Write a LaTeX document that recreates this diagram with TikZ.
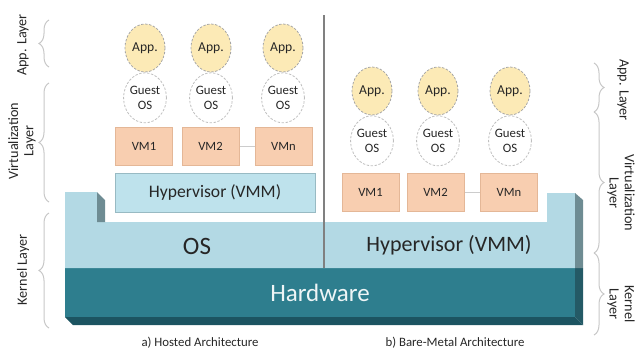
\documentclass[tikz,border=0pt]{standalone}
\usepackage{fontspec}
\setmainfont{Carlito}
\usetikzlibrary{positioning}
\usetikzlibrary{shapes.geometric}
\usetikzlibrary{decorations.pathreplacing}
\definecolor{appfill}{HTML}{FCEAB6}
\definecolor{vmfill}{HTML}{F8CEB0}
\definecolor{vmline}{HTML}{E4B797}
\definecolor{osfill}{HTML}{B3D9E4}
\definecolor{hypfill}{HTML}{BEE2EC}
\definecolor{hypline}{HTML}{98BAC3}
\definecolor{osside}{HTML}{6E8C93}
\definecolor{hwfill}{HTML}{2E7E8E}
\definecolor{hwdark}{HTML}{1C5461}
\definecolor{txt}{HTML}{262626}
\tikzset{app/.style={ellipse, draw=black!35, dash pattern=on 1.2pt off 0.8pt, line width=0.4pt, fill=appfill, minimum width=20pt, minimum height=24pt, inner sep=0pt, text=txt, font=\fontsize{6.8}{7.5}\selectfont}}
\tikzset{guest/.style={ellipse, draw=black!25, dash pattern=on 1.2pt off 0.8pt, line width=0.4pt, fill=white, minimum width=20pt, minimum height=25pt, inner sep=0pt, align=center, text=txt, font=\fontsize{6.4}{7.2}\selectfont}}
\tikzset{vm/.style={draw=vmline, line width=0.5pt, fill=vmfill, minimum width=28.5pt, minimum height=19pt, inner sep=0pt, text=txt, font=\fontsize{6.3}{7}\selectfont}}
\tikzset{brc/.style={draw=black!22, line width=0.5pt, decorate, decoration={brace, amplitude=5pt}}}
\tikzset{lay/.style={align=center, text=txt, font=\fontsize{7.1}{7.6}\selectfont}}
\tikzset{captxt/.style={text=txt, font=\fontsize{6.4}{7}\selectfont}}
\tikzset{gapline/.style={draw=black!20, line width=0.4pt}}

\begin{document}
\begin{tikzpicture}[x=0.5pt, y=-0.5pt]
\useasboundingbox (0,0) rectangle (637,354);

% hardware with its 3d edges
\fill[hwdark] (65,317) -- (575,317) -- (583,325) -- (73,325) -- cycle;
\fill[hwdark!90!osside] (575,268) -- (583,268) -- (583,325) -- (575,317) -- cycle;
\node[fill=hwfill, minimum width=255pt, minimum height=24.5pt, inner sep=0pt,
  text=white!92!hwfill, font=\fontsize{12.5}{14}\selectfont] (hw) at (320,292.5) {Hardware};

% OS / hypervisor block
\fill[osfill] (65,192) -- (97,192) -- (97,222) -- (547,222) -- (547,193)
  -- (575,193) -- (575,268) -- (65,268) -- cycle;
\fill[osside] (97,192) -- (105,200) -- (105,222) -- (97,222) -- cycle;
\fill[osside] (575,193) -- (583,200) -- (583,268) -- (575,268) -- cycle;
\node[text=txt, font=\fontsize{12.5}{15}\selectfont] (os) at (197,246) {OS};
\node[text=txt, font=\fontsize{11}{13}\selectfont] (bmhyp) at (449,245) {Hypervisor (VMM)};

\draw[black!50, line width=0.8pt] (324,15) -- (324,268);

% a) hosted
\node[draw=hypline, line width=0.5pt, fill=hypfill, minimum width=100pt, minimum height=19.5pt,
  inner sep=0pt, text=txt, font=\fontsize{8.8}{10}\selectfont] (hyp) at (215,192.5) {Hypervisor (VMM)};

\node[app] (app1) at (145,48) {App.};
\node[app] (app2) at (211,48) {App.};
\node[app] (app3) at (283,48) {App.};
\node[guest, below=0pt of app1] (gos1) {Guest\\OS};
\node[guest, below=0pt of app2] (gos2) {Guest\\OS};
\node[guest, below=0pt of app3] (gos3) {Guest\\OS};
\node[vm] (vm1) at (144,146) {VM1};
\node[vm] (vm2) at (210.5,146) {VM2};
\node[vm] (vmn) at (283.5,146) {VMn};
\draw[gapline] (vm2) -- (vmn);

% b) bare-metal
\node[app] (bapp1) at (372,91) {App.};
\node[app] (bapp2) at (438,91) {App.};
\node[app] (bapp3) at (510,91) {App.};
\node[guest, below=0pt of bapp1] (bgos1) {Guest\\OS};
\node[guest, below=0pt of bapp2] (bgos2) {Guest\\OS};
\node[guest, below=0pt of bapp3] (bgos3) {Guest\\OS};
\node[vm] (bvm1) at (370.5,192) {VM1};
\node[vm] (bvm2) at (435.5,192) {VM2};
\node[vm] (bvmn) at (509,192) {VMn};
\draw[gapline] (bvm2) -- (bvmn);

\node[captxt] (capa) at (200,343) {a) Hosted Architecture};
\node[captxt] (capb) at (455,343) {b) Bare-Metal Architecture};

% layer braces, left
\coordinate (la1) at (49,20);
\coordinate (la2) at (49,67);
\coordinate (lv1) at (49,83);
\coordinate (lv2) at (49,202);
\coordinate (lk1) at (49,213);
\coordinate (lk2) at (49,328);
\draw[brc] (la2) -- (la1);
\draw[brc] (lv2) -- (lv1);
\draw[brc] (lk2) -- (lk1);
\node[lay, rotate=90] (lapp) at (23,45) {App. Layer};
\node[lay, rotate=90] (lvirt) at (22,141) {Virtualization\\Layer};
\node[lay, rotate=90] (lkern) at (23,270) {Kernel Layer};

% layer braces, right
\coordinate (ra1) at (594,63);
\coordinate (ra2) at (594,112);
\coordinate (rv1) at (594,112);
\coordinate (rv2) at (594,253);
\coordinate (rk1) at (594,253);
\coordinate (rk2) at (594,335);
\draw[brc] (ra1) -- (ra2);
\draw[brc] (rv1) -- (rv2);
\draw[brc] (rk1) -- (rk2);
\node[lay, rotate=-90] (rapp) at (623,90) {App. Layer};
\node[lay, rotate=-90] (rvirt) at (621,193) {Virtualization\\Layer};
\node[lay, rotate=-90] (rkern) at (621,304) {Kernel\\Layer};

\end{tikzpicture}
\end{document}
